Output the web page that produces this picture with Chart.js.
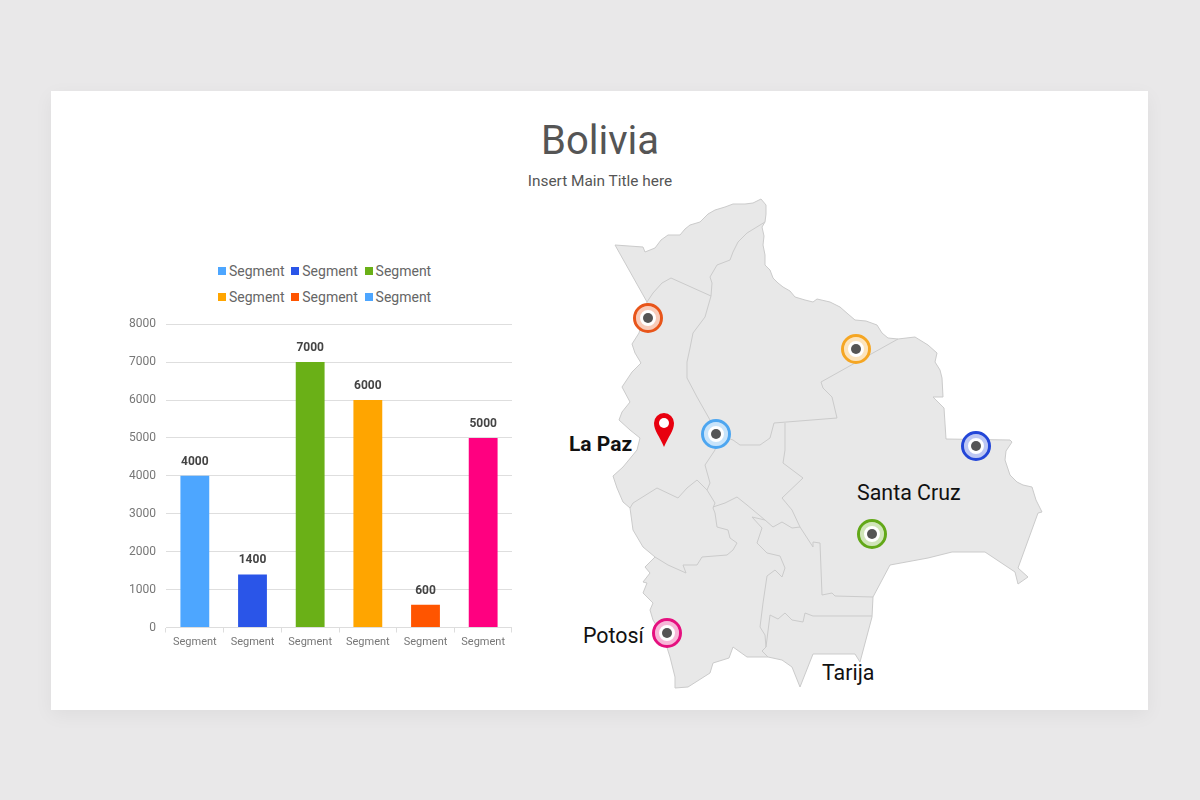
<!DOCTYPE html>
<html>
<head>
<meta charset="utf-8">
<title>Bolivia</title>
<script src="https://cdn.jsdelivr.net/npm/chart.js@4/dist/chart.umd.js"></script>
<style>
  html, body { margin: 0; height: 100%; background: #e9e8e9; overflow: hidden; }
  #card { position: absolute; left: 51px; top: 91px; width: 1097px; height: 619px; background: #fff; box-shadow: 0 5px 18px rgba(0,0,0,.05); }
  .txt { position: absolute; font-family: Roboto, sans-serif; white-space: nowrap; line-height: 1; }
  #title { left: 0; width: 1200px; top: 121px; text-align: center; font-size: 40px; color: #555; }
  #sub { left: 0; width: 1200px; top: 174px; text-align: center; font-size: 15.4px; color: #555; }
  .place { font-size: 21.4px; color: #111; }
  #map { position: absolute; left: 0; top: 0; }
  #wrap { position: absolute; left: 125px; top: 307px; width: 387px; height: 353px; }
  #legend { position: absolute; left: 218px; top: 258px; width: 220px; display: flex; flex-wrap: wrap; }
  .item { width: 73.3px; height: 26px; display: flex; align-items: center; font: 14px Roboto, sans-serif; color: #666; }
  .item i { width: 8px; height: 8px; margin-right: 3px; flex: none; }
</style>
</head>
<body>
<div id="card"></div>
<div class="txt" id="title">Bolivia</div>
<div class="txt" id="sub">Insert Main Title here</div>
<svg id="map" width="1200" height="800"></svg>
<div class="txt place" style="left:569px;top:434px;font-weight:700;font-size:21px">La Paz</div>
<div class="txt place" style="left:857px;top:482px">Santa Cruz</div>
<div class="txt place" style="left:583px;top:625px">Potosí</div>
<div class="txt place" style="left:822px;top:662px">Tarija</div>
<div id="legend"></div>
<div id="wrap"><canvas id="chart"></canvas></div>
<script>
// chart data
const categories = ['Segment', 'Segment', 'Segment', 'Segment', 'Segment', 'Segment'];
const values = [4000, 1400, 7000, 6000, 600, 5000];
const barColors = ['#4da6ff', '#2a55e8', '#6ab017', '#ffa500', '#ff5500', '#ff0080'];
const legendColors = ['#4da6ff', '#2a55e8', '#6ab017', '#ffa500', '#ff5500', '#4da6ff'];

// map drawing, not data
const outline = '615,245 643,247 645,252 655,248 661,240 668,235 680,235 685,229 690,225 700,222 708,214 715,210 725,207 733,204 745,204 753,203 761,199 766,205 766,214 765,222 762,227 764,236 763,245 765,255 765,265 770,270 773,278 778,283 783,287 790,291 795,297 805,300 813,302 817,299 830,302 840,307 848,314 855,320 866,321 877,325 882,333 888,338 898,339 915,337 928,345 937,353 935,362 940,370 942,378 943,397 933,397 944,408 946,439 1010,440 1012,442 1006,451 1005,460 1010,475 1017,482 1023,485 1032,487 1036,500 1042,512 1038,513 1018,568 1028,577 1018,584 1015,572 985,552 952,552 928,558 890,565 873,597 872,617 860,662 855,654 813,654 800,687 792,667 782,660 768,657 747,657 733,647 729,658 713,663 710,673 688,687 675,688 675,677 670,657 664,638 653,620 650,610 653,603 643,593 647,583 643,582 650,573 645,567 655,557 643,547 633,530 630,508 623,502 617,488 613,476 623,467 637,450 640,438 630,430 619,420 622,412 630,402 622,387 632,372 641,363 635,353 632,344 639,333 643,318 647,302';
const borders = [
  '647,302 653,293 662,283 671,278 711,296',
  '711,296 712,283 710,277 717,265 730,260 733,252 738,242 747,233 765,222',
  '711,296 705,317 693,333 690,348 687,362 687,378 697,397 710,420 716,434 733,440 740,445 760,445 770,438 774,423 837,418 832,397 823,388 821,382 855,363 898,339',
  '716,434 715,450 705,465 710,483 707,490 697,480 687,488 678,498 657,488 633,503 630,508',
  '707,490 715,503 713,508 715,513 717,527 728,530 730,538 737,543 733,550 727,555 702,557 697,565 683,565 686,573 668,565 655,557',
  '713,507 725,503 737,497 747,505 765,520 773,527 782,522 792,528 800,527 813,547 813,542 820,543 822,595 832,593 835,596 873,597',
  '800,527 792,510 782,498 803,478 783,463 785,450 785,423',
  '872,616 813,616 805,613 803,622 792,620 785,613 778,619 770,615 766,647 762,651 768,657',
  '765,520 752,517 762,528 757,543 767,553 780,556 785,568 782,577 775,570 767,576 763,603 760,627 765,635 766,647'
];
const markers = [
  [648, 318, '#e8551a'], [856, 349, '#f5a623'], [716, 434, '#4da6f0'],
  [976, 446, '#2346d8'], [872, 534, '#62a818'], [667, 633, '#e5107f']
];

let svg = '<polygon points="' + outline + '" fill="#e8e8e8" stroke="#cbcbcb" stroke-width="1"/>';
borders.forEach(b => { svg += '<polyline points="' + b + '" fill="none" stroke="#cbcbcb" stroke-width="1"/>'; });
markers.forEach(m => {
  svg += '<circle cx="' + m[0] + '" cy="' + m[1] + '" r="13.5" fill="#fff" stroke="' + m[2] + '" stroke-width="3"/>';
  svg += '<circle cx="' + m[0] + '" cy="' + m[1] + '" r="10" fill="none" stroke="' + m[2] + '" stroke-opacity=".3" stroke-width="4"/>';
  svg += '<circle cx="' + m[0] + '" cy="' + m[1] + '" r="5" fill="#555"/>';
});
svg += '<path d="M664 447 C660 437 654 431 654 423 A10 10 0 0 1 674 423 C674 431 668 437 664 447 Z" fill="#e8000f"/>';
svg += '<circle cx="664" cy="423" r="5" fill="#fff"/>';
document.getElementById('map').innerHTML = svg;

// html legend, the colours in the picture differ from the bars for the last item
document.getElementById('legend').innerHTML = categories.map((c, i) =>
  '<div class="item"><i style="background:' + legendColors[i] + '"></i>' + c + '</div>').join('');

// numbers over the bars
const barLabels = {
  id: 'barLabels',
  afterDatasetsDraw(chart) {
    const ctx = chart.ctx;
    ctx.save();
    ctx.font = '700 12px Roboto';
    ctx.fillStyle = '#444';
    ctx.textAlign = 'center';
    ctx.textBaseline = 'bottom';
    chart.getDatasetMeta(0).data.forEach((bar, i) => {
      ctx.fillText(values[i], bar.x, bar.y - 8);
    });
    ctx.restore();
  }
};

new Chart(document.getElementById('chart'), {
  type: 'bar',
  data: {
    labels: categories,
    datasets: [{
      data: values,
      backgroundColor: barColors,
      barPercentage: 0.5,
      categoryPercentage: 1
    }]
  },
  options: {
    responsive: true,
    maintainAspectRatio: false,
    animation: false,
    plugins: {
      tooltip: { enabled: false },
      legend: { display: false }
    },
    scales: {
      x: {
        afterFit(scale) { scale.height = 32.5; },
        grid: { drawOnChartArea: false, color: '#ddd', tickLength: 5 },
        border: { color: '#ddd' },
        ticks: { color: '#777', font: { family: 'Roboto', size: 11 }, padding: 3, maxRotation: 0, autoSkip: false }
      },
      y: {
        min: 0,
        max: 8000,
        afterFit(scale) { scale.width = 41; },
        grid: { color: '#dedede', drawTicks: false },
        border: { display: false },
        ticks: { stepSize: 1000, color: '#777', font: { family: 'Roboto', size: 12 }, padding: 10, callback: v => String(v) }
      }
    }
  },
  plugins: [barLabels]
});
</script>
</body>
</html>
